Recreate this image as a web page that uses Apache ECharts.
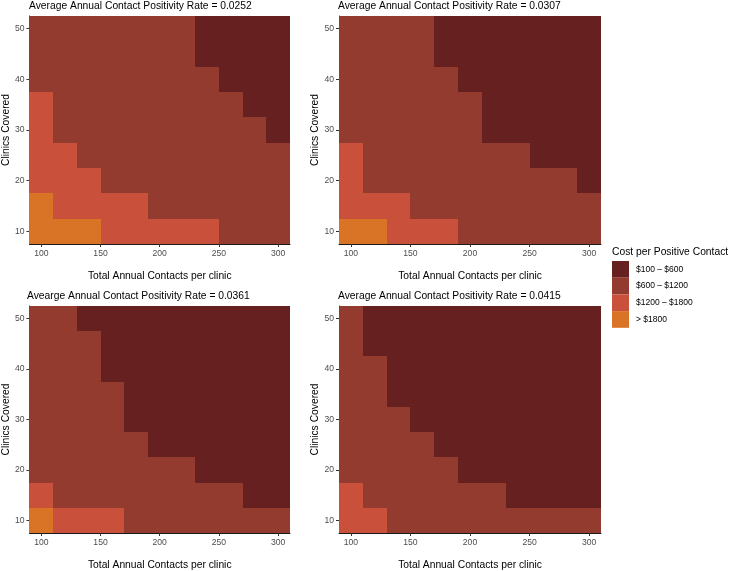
<!DOCTYPE html>
<html><head><meta charset="utf-8">
<script src="https://cdn.jsdelivr.net/npm/echarts@6/dist/echarts.min.js"></script>
<style>html,body{margin:0;padding:0;background:#fff}#c{width:729px;height:571px}</style>
</head><body><div id="c"></div>
<script>
// ---- data ----
const xValues = [100,120,140,160,180,200,220,240,260,280,300];
const yValues = [10,15,20,25,30,35,40,45,50];
const xTicks = [100,150,200,250,300];
const yTicks = [10,20,30,40,50];
const panelTitles = [
  'Average Annual Contact Positivity Rate = 0.0252',
  'Average Annual Contact Positivity Rate = 0.0307',
  'Avearge Annual Contact Positivity Rate = 0.0361',
  'Average Annual Contact Positivity Rate = 0.0415'
];
const costLabels = ['$100 \u2013 $600','$600 \u2013 $1200','$1200 \u2013 $1800','> $1800'];
// category index per cell: 0=$100-$600, 1=$600-$1200, 2=$1200-$1800, 3=>$1800
// rows: y = 10,15,...,50 ; columns: x = 100,120,...,300
const rate0252 = [
  [3,3,3,2,2,2,2,2,1,1,1],
  [3,2,2,2,2,1,1,1,1,1,1],
  [2,2,2,1,1,1,1,1,1,1,1],
  [2,2,1,1,1,1,1,1,1,1,1],
  [2,1,1,1,1,1,1,1,1,1,0],
  [2,1,1,1,1,1,1,1,1,0,0],
  [1,1,1,1,1,1,1,1,0,0,0],
  [1,1,1,1,1,1,1,0,0,0,0],
  [1,1,1,1,1,1,1,0,0,0,0]
];
const rate0307 = [
  [3,3,2,2,2,1,1,1,1,1,1],
  [2,2,2,1,1,1,1,1,1,1,1],
  [2,1,1,1,1,1,1,1,1,1,0],
  [2,1,1,1,1,1,1,1,0,0,0],
  [1,1,1,1,1,1,0,0,0,0,0],
  [1,1,1,1,1,1,0,0,0,0,0],
  [1,1,1,1,1,0,0,0,0,0,0],
  [1,1,1,1,0,0,0,0,0,0,0],
  [1,1,1,1,0,0,0,0,0,0,0]
];
const rate0361 = [
  [3,2,2,2,1,1,1,1,1,1,1],
  [2,1,1,1,1,1,1,1,1,0,0],
  [1,1,1,1,1,1,1,0,0,0,0],
  [1,1,1,1,1,0,0,0,0,0,0],
  [1,1,1,1,0,0,0,0,0,0,0],
  [1,1,1,1,0,0,0,0,0,0,0],
  [1,1,1,0,0,0,0,0,0,0,0],
  [1,1,1,0,0,0,0,0,0,0,0],
  [1,1,0,0,0,0,0,0,0,0,0]
];
const rate0415 = [
  [2,2,1,1,1,1,1,1,1,1,1],
  [2,1,1,1,1,1,1,0,0,0,0],
  [1,1,1,1,1,0,0,0,0,0,0],
  [1,1,1,1,0,0,0,0,0,0,0],
  [1,1,1,0,0,0,0,0,0,0,0],
  [1,1,0,0,0,0,0,0,0,0,0],
  [1,1,0,0,0,0,0,0,0,0,0],
  [1,0,0,0,0,0,0,0,0,0,0],
  [1,0,0,0,0,0,0,0,0,0,0]
];
const panels = [rate0252, rate0307, rate0361, rate0415];

// ---- style ----
const costColors = ['#66201F','#943B2F','#C9503A','#D97326'];
const FONT = '"Liberation Sans", Arial, Helvetica, sans-serif';
const gridPos = [
  {left:28, top:16, width:262, height:228},
  {left:339, top:16, width:262, height:228},
  {left:28, top:306, width:262, height:228},
  {left:339, top:306, width:262, height:228}
];
const titlePos = [{left:29,top:1.5},{left:338,top:1.5},{left:27,top:291.5},{left:338,top:291.5}];

const xStep = xValues[1]-xValues[0];
const yStep = yValues[1]-yValues[0];

function buildData(mat){
  const out = [];
  mat.forEach((row,j)=>row.forEach((c,i)=>out.push([xValues[i], yValues[j], c])));
  return out;
}
function renderItem(params, api){
  const x = api.value(0), y = api.value(1);
  const p1 = api.coord([x - xStep/2, y + yStep/2]);
  const p2 = api.coord([x + xStep/2, y - yStep/2]);
  const x1 = Math.round(p1[0]), y1 = Math.round(p1[1]);
  const x2 = Math.round(p2[0]), y2 = Math.round(p2[1]);
  return {type:'rect', shape:{x:x1,y:y1,width:x2-x1,height:y2-y1},
          style:{fill: api.visual('color')}};
}

const axisCommon = {
  axisLine:{show:true, onZero:false, lineStyle:{color:'#1a1a1a', width:1}},
  axisTick:{show:true, length:3, lineStyle:{color:'#333'}},
  splitLine:{show:false},
  nameLocation:'middle',
  nameTextStyle:{fontFamily:FONT, fontSize:10.3, color:'#000'}
};

const option = {
  backgroundColor:'#fff',
  animation:false,
  title: panelTitles.map((t,k)=>({text:t, left:titlePos[k].left, top:titlePos[k].top, padding:0,
      textStyle:{fontFamily:FONT, fontSize:10.3, fontWeight:'normal', color:'#000'}})).concat([
      {text:'Cost per Positive Contact', left:612, top:247.5, padding:0,
       textStyle:{fontFamily:FONT, fontSize:10.3, fontWeight:'normal', color:'#000'}}]),
  grid: gridPos.map(g=>Object.assign({containLabel:false}, g)),
  xAxis: gridPos.map((g,k)=>Object.assign({}, axisCommon, {
    type:'value', gridIndex:k, min:xValues[0]-xStep/2, max:xValues[xValues.length-1]+xStep/2,
    name:'Total Annual Contacts per clinic', nameGap:27,
    axisTick:Object.assign({}, axisCommon.axisTick, {customValues:xTicks}),
    axisLabel:{customValues:xTicks, margin:5, fontFamily:FONT, fontSize:8.6, color:'#4d4d4d'}
  })),
  yAxis: gridPos.map((g,k)=>Object.assign({}, axisCommon, {
    type:'value', gridIndex:k, min:yValues[0]-yStep/2, max:yValues[yValues.length-1]+yStep/2,
    name:'Clinics Covered', nameGap:17,
    axisTick:Object.assign({}, axisCommon.axisTick, {customValues:yTicks}),
    axisLabel:{customValues:yTicks, margin:5, fontFamily:FONT, fontSize:8.6, color:'#4d4d4d'}
  })),
  visualMap: {
    type:'piecewise', dimension:2, seriesIndex:[0,1,2,3],
    orient:'vertical', inverse:true, align:'left', padding:0,
    left:612, top:261, itemWidth:17, itemHeight:16.7, itemGap:0, itemSymbol:'rect',
    textGap:7, selectedMode:false, hoverLink:false,
    textStyle:{fontFamily:FONT, fontSize:8.5, color:'#000'},
    pieces: costLabels.map((l,k)=>({value:k, label:l, color:costColors[k]}))
  },
  series: panels.map((m,k)=>({
    type:'custom', xAxisIndex:k, yAxisIndex:k, renderItem:renderItem,
    encode:{x:0, y:1}, data:buildData(m), silent:true
  }))
};
const chart = echarts.init(document.getElementById('c'), null, {renderer:'canvas'});
chart.setOption(option);
</script></body></html>
